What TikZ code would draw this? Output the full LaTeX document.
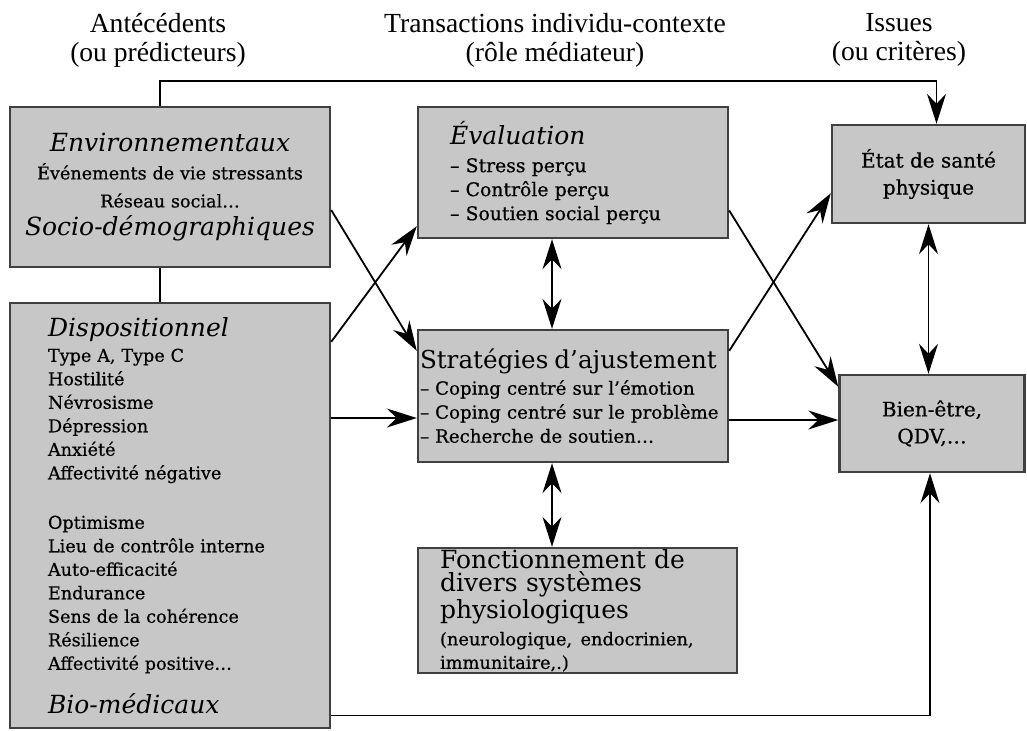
\documentclass[tikz,border=0pt]{standalone}
\usepackage{fontspec}
\setmainfont{DejaVu Serif}
\newfontfamily\bodyfont{DejaVu Serif}[FakeBold=0.6]
\newfontfamily\headfont{Liberation Serif}
\usetikzlibrary{arrows.meta}

\newcommand\hd[1]{{\rmfamily\fontsize{12.5}{15}\selectfont\itshape #1}}

\tikzset{
  box/.style={draw=black!75, line width=1.2pt, fill=black!22, inner sep=0pt},
  hdr/.style={font=\headfont\fontsize{13.8}{14.5}\selectfont, align=center},
  tip/.tip={Stealth[length=15pt,width=9.5pt,inset=5pt]},
  arr/.style={-tip, line width=0.9pt},
  dblarr/.style={tip-tip, line width=0.9pt}
}

\begin{document}
\begin{tikzpicture}[x=0.5pt,y=-0.5pt]
  \useasboundingbox (0,0) rectangle (1027,730);

  % column titles
  \node[hdr] (hant) at (158,40) {Antécédents\\(ou prédicteurs)};
  \node[hdr] (htrans) at (555,40) {Transactions individu-contexte\\(rôle médiateur)};
  \node[hdr] (hiss) at (899,40) {Issues\\(ou critères)};

  % antecedents
  \node[box, minimum width=160pt, minimum height=80pt, text width=150pt, align=center,
        font=\bodyfont\fontsize{8.8}{14}\selectfont] (env) at (170,187)
    {\hd{Environnementaux}\\Événements de vie stressants\\Réseau social…\\\hd{Socio-démographiques}};
  \node[box, minimum width=160pt, minimum height=212.5pt, text width=122pt, inner xsep=19pt,
        align=left, font=\bodyfont\fontsize{8.8}{11.75}\selectfont] (disp) at (170,515.5)
    {\hd{Dispositionnel}\\[1pt]
     Type A, Type C\\Hostilité\\Névrosisme\\Dépression\\Anxiété\\Affectivité négative\\[13pt]
     Optimisme\\Lieu de contrôle interne\\Auto-efficacité\\Endurance\\Sens de la cohérence\\Résilience\\Affectivité positive…\\[9pt]
     \hd{Bio-médicaux}};

  % transactions
  \node[box, minimum width=155pt, minimum height=65.5pt, text width=123pt, inner xsep=16pt,
        align=left, font=\bodyfont\fontsize{9.4}{12}\selectfont] (eval) at (573,172.5)
    {\hd{Évaluation}\\[2pt]
     – Stress perçu\\– Contrôle perçu\\– Soutien social perçu};
  \node[box, minimum width=155pt, minimum height=66pt, text width=153pt, inner xsep=1pt,
        align=left, font=\bodyfont\fontsize{9.1}{12}\selectfont] (strat) at (573,396)
    {{\rmfamily\fontsize{12.3}{14}\selectfont Stratégies d’ajustement}\\[1pt]
     – Coping centré sur l’émotion\\– Coping centré sur le problème\\– Recherche de soutien…};
  \node[box, minimum width=159.5pt, minimum height=62.5pt, text width=137.5pt, inner xsep=11pt,
        align=left, font=\rmfamily\fontsize{12.5}{11.75}\selectfont] (fonct) at (577.5,610.5)
    {Fonctionnement de\\divers systèmes\\physiologiques\\[1pt]
     {\bodyfont\fontsize{8.9}{12.5}\selectfont (neurologique, endocrinien,\\immunitaire,.)}};

  % issues
  \node[box, minimum width=96.5pt, minimum height=49pt, align=center,
        font=\bodyfont\fontsize{10}{13.5}\selectfont] (etat) at (928.5,174) {État de santé\\physique};
  \node[box, minimum width=92.5pt, minimum height=48.5pt, align=center,
        font=\bodyfont\fontsize{10}{13.5}\selectfont] (bien) at (932,423.5) {Bien-être,\\QDV,…};

  % links
  \draw[arr] ([xshift=-5pt]env.north) -- ++(0,-25) -| ([xshift=4pt]etat.north);
  \draw[line width=0.9pt] ([xshift=-5pt]env.south) -- ([xshift=-5pt]disp.north);
  \draw[arr] ([yshift=-11.5pt]env.east) -- ([yshift=-11pt]strat.north west);
  \draw[arr] ([yshift=-20pt]disp.north east) -- ([yshift=6.5pt]eval.south west);
  \coordinate (sin) at ([yshift=-11pt]strat.west);
  \draw[arr] (disp.east |- sin) -- (sin);
  \draw[dblarr] ([xshift=-10.5pt]eval.south) -- ([xshift=-10.5pt]strat.north);
  \draw[dblarr] ([xshift=-10.5pt]strat.south) -- ([xshift=-10.5pt]strat.south |- fonct.north);
  \draw[arr] ([yshift=-19pt]eval.east) -- ([yshift=-6.5pt]bien.north west);
  \draw[arr] ([yshift=-11pt]strat.north east) -- ([yshift=15.5pt]etat.south west);
  \coordinate (sout) at ([yshift=-12pt]strat.east);
  \draw[arr] (sout) -- (sout -| bien.west);
  \draw[dblarr] (etat.south) -- (etat.south |- bien.north);
  \draw[arr] ([yshift=-100pt]disp.east) -| ([xshift=-1pt]bien.south);
\end{tikzpicture}
\end{document}
